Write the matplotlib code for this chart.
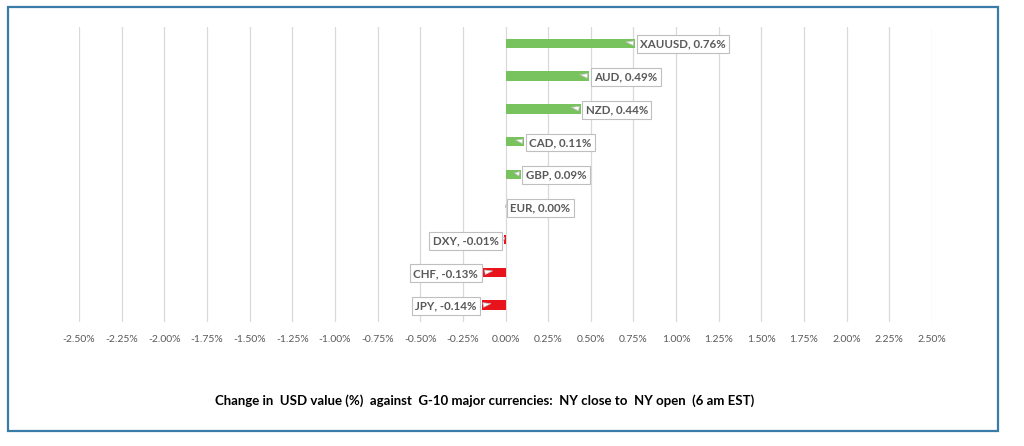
import matplotlib
matplotlib.use("Agg")
import matplotlib.pyplot as plt
import numpy as np

categories = ["XAUUSD", "AUD", "NZD", "CAD", "GBP", "EUR", "DXY", "CHF", "JPY"]
values = [0.76, 0.49, 0.44, 0.11, 0.09, 0.00, -0.01, -0.13, -0.14]
xticks = [-2.5, -2.25, -2.0, -1.75, -1.5, -1.25, -1.0, -0.75, -0.5, -0.25, 0.0,
          0.25, 0.5, 0.75, 1.0, 1.25, 1.5, 1.75, 2.0, 2.25, 2.5]
title = "Change in  USD value (%)  against  G-10 major currencies:  NY close to  NY open  (6 am EST)"

GREEN = "#79C35F"
RED = "#E8131B"
FONT = ["Lato", "DejaVu Sans"]

fig = plt.figure(figsize=(10.24, 4.46), dpi=100)
ax = fig.add_axes([79 / 1024, 1 - 321.5 / 446, (932 - 79) / 1024, (321.5 - 27) / 446])

n = len(categories)
ypos = np.arange(n)[::-1]
colors = [GREEN if v >= 0 else RED for v in values]
ax.barh(ypos, values, height=0.29, color=colors, zorder=2)

ax.set_xlim(-2.5, 2.5)
ax.set_ylim(-0.5, n - 0.5)
ax.set_xticks(xticks)
ax.set_xticklabels([f"{t:.2f}%" for t in xticks], fontsize=7.5, color="#595959",
                   fontfamily=FONT)
ax.set_yticks([])
ax.tick_params(axis="x", length=0, pad=10)
for s in ax.spines.values():
    s.set_visible(False)
ax.grid(axis="x", color="#D9D9D9", linewidth=0.9, zorder=0)
ax.set_axisbelow(True)

px = 5.0 / (932 - 79)  # data units per pixel
for y, cat, v in zip(ypos, categories, values):
    sign = 1 if v >= 0 else -1
    tip = v - sign * min(12 * px, abs(v) * 0.6)
    tx = v + sign * 5 * px
    ax.annotate(f"{cat}, {v:.2f}%", xy=(tip, y + 0.06), xytext=(tx, y - 0.03),
                textcoords="data", ha="left" if sign > 0 else "right", va="center",
                fontsize=8.3, fontweight="bold", color="#595959", fontfamily=FONT,
                bbox=dict(boxstyle="square,pad=0.3", fc="white", ec="#BFBFBF", lw=0.8),
                arrowprops=dict(arrowstyle="wedge,tail_width=0.4,shrink_factor=0.5",
                                fc="white", ec="#BFBFBF", lw=0.5,
                                relpos=(0, 0.5) if sign > 0 else (1, 0.5)),
                zorder=5)

fig.text(485 / 1024, 1 - 401 / 446, title, ha="center", va="center",
         fontsize=9.5, fontweight="bold", color="black", fontfamily=FONT)

border = plt.Rectangle((8 / 1024, 1 - 431 / 446), (998 - 8) / 1024, (431 - 7) / 446,
                       transform=fig.transFigure, fill=False, ec="#3A7CA8", lw=1.6)
fig.add_artist(border)

fig.savefig("out.png", dpi=100)
